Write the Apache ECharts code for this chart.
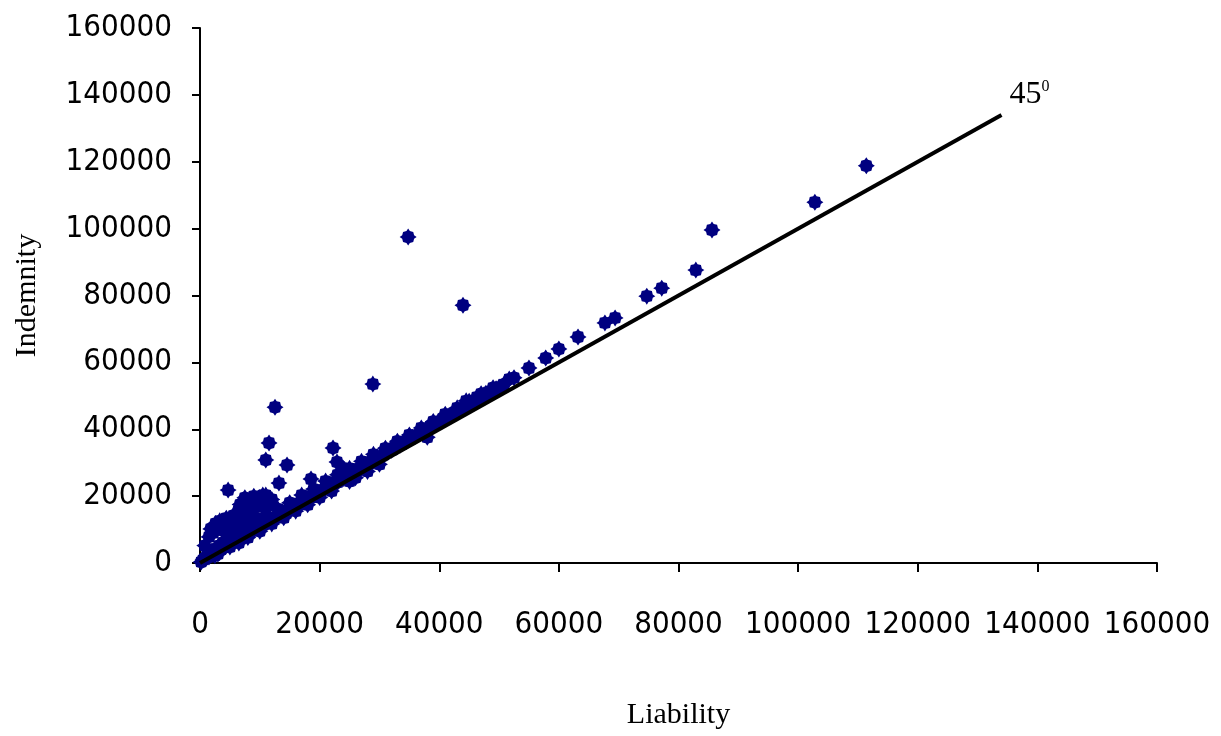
<!DOCTYPE html>
<html>
<head>
<meta charset="utf-8">
<script src="https://cdn.jsdelivr.net/npm/echarts@6/dist/echarts.min.js"></script>
<style>
html,body{margin:0;padding:0;background:#fff;}
#chart{width:1221px;height:736px;}
</style>
</head>
<body>
<div id="chart"></div>
<script>
// ---- data ----
const xAxisName = 'Liability';
const yAxisName = 'Indemnity';
const axisMin = 0;
const axisMax = 160000;
const axisStep = 20000;
const diagonalLabel = ['45', '0'];

// dense band along the diagonal
const bandLiability = [200,500,800,1000,1200,1500,1800,2000,2200,2500,2700,3000,3200,3500,3800,4000,4300,4500,4800,5000,5200,5500,5800,6000,6300,6500,6800,7000,7300,7500,7800,8000,8300,8600,9000,9300,9600,10000,
 10500,11000,11500,12000,12500,13000,13500,14000,14500,15000,15500,16000,16500,17000,17500,18000,18500,19000,19500,20000,20500,21000,21500,22000,22500,23000,23500,24000,24500,25000,25500,26000,26500,27000,27500,28000,28500,29000,29500,30000,30500,31000,31500,32000,32500,33000,33500,34000,34500,35000,35500,36000,36500,37000,37500,38000,38500,39000,39500,40000,40500,41000,41500,42000,42500,43000,43500,44000,44500,45000,45500,46000,46500,47000,47500,48000,48500,49000,49500,50000,50800,51700,52500,
 5000,12000,20000,30000,38000,3000,8000,16000,25000];
const bandIndemnity = [300,900,1200,1500,2600,1800,2400,3500,2600,4200,3100,3600,5200,4000,6100,4600,5000,7200,5500,8300,5900,6300,9000,6800,7200,10200,7600,8000,11000,8300,8700,12000,9200,9500,10000,13500,10500,11000,
 11300,12100,12300,13000,13600,13700,14600,15100,15300,16200,16500,17100,17800,17900,18800,19300,19500,20400,20800,21000,21900,22400,22600,23500,23800,24100,25000,25300,25700,26600,26800,27300,28200,28400,28800,29800,30000,30500,31400,31600,32000,33000,33200,33700,34600,34800,35300,36100,36300,36900,37600,37900,38400,39300,39500,40000,40900,41100,41600,42400,42700,43200,44000,44200,44800,45500,45800,46300,47200,47400,47900,48700,49000,49500,50300,50500,51100,51800,52100,52600,53400,55000,55400,
 4800,11700,19600,29500,37600,2700,7600,15500,24400];

// upper edge of the band
const bandTopLiability = [11000,13000,15000,17000,19000,21000,23000,25000,27000,29000,31000,33000,35000,37000,39000,41000,43000,45000,47000,49000];
const bandTopIndemnity = [14000,16200,18000,20300,22100,24500,26400,28300,30400,32500,34300,36400,38300,40400,42300,44500,46400,48400,50600,52400];

// lower edge of the band
const bandLowLiability = [2500,6500,10000,14000,18000,22000,26000,28000];
const bandLowIndemnity = [2200,6000,9500,13500,17400,21500,25500,27400];

// upper blob near the origin
const blobLiability = [800,1500,1800,2200,2600,3000,3300,3700,4100,4400,4800,5200,5600,6000,6400,6700,7200,7600,8000,8500,9000,9500,10000,10500,11000,11500,12000,6700,7500,8300,9000,9800,10500,11200,8000,44500,46300,47800];
const blobIndemnity = [5200,7800,10200,9000,11800,10500,12600,9800,11200,13400,12200,10800,14200,12500,15600,13800,16200,14800,17200,15400,18200,16800,19600,18300,20300,17500,19000,17500,19500,16500,20000,18000,20300,17000,15000,48500,49600,50800];

// scattered outliers
const outlierLiability = [34800,43970,85600,82900,77200,74700,69400,67700,63200,60000,57800,55000,111400,102800,28900,12540,11540,11000,14550,22240,22900,23900,13200,18560,4700];
const outlierIndemnity = [97500,77100,99600,87600,82200,79800,73300,71800,67600,64000,61300,58300,118800,107900,53500,46600,35900,30800,29300,34400,30200,28400,23900,25100,21800];

// 45 degree reference line end points
const diagLiability = [0, 134000];
const diagIndemnity = [0, 134000];

// ---- build ----
function pairs(xs, ys){ return xs.map((x,i)=>[x, ys[i]]); }
const points = pairs(bandLiability, bandIndemnity)
  .concat(pairs(bandTopLiability, bandTopIndemnity))
  .concat(pairs(bandLowLiability, bandLowIndemnity))
  .concat(pairs(blobLiability, blobIndemnity))
  .concat(pairs(outlierLiability, outlierIndemnity));
const diag = pairs(diagLiability, diagIndemnity);

const markerPath = 'path://M0,-10 L2,-7 L6,-6 L7,-2 L10,0 L7,2 L6,6 L2,7 L0,10 L-2,7 L-6,6 L-7,2 L-10,0 L-7,-2 L-6,-6 L-2,-7 Z';
const labelFont = "'DejaVu Sans Condensed','Liberation Sans Narrow','Arial Narrow',sans-serif";
const serif = "'Liberation Serif','Times New Roman',serif";

const chart = echarts.init(document.getElementById('chart'), null, {renderer:'canvas'});
chart.setOption({
  animation: false,
  backgroundColor: '#ffffff',
  grid: {left: 200, right: 64, top: 28, bottom: 173, containLabel: false},
  xAxis: {
    type: 'value', min: axisMin, max: axisMax, interval: axisStep,
    name: xAxisName, nameLocation: 'middle', nameGap: 137,
    nameTextStyle: {fontFamily: serif, fontSize: 30, color: '#000'},
    axisLine: {show: true, lineStyle: {color: '#000', width: 2}},
    axisTick: {show: true, inside: false, length: 9, lineStyle: {color: '#000', width: 2}},
    axisLabel: {margin: 46, fontFamily: labelFont, fontSize: 31, color: '#000', hideOverlap: false,
      showMinLabel: true, showMaxLabel: true, formatter: v => String(v)},
    splitLine: {show: false}
  },
  yAxis: {
    type: 'value', min: axisMin, max: axisMax, interval: axisStep,
    name: yAxisName, nameLocation: 'middle', nameGap: 158,
    nameTextStyle: {fontFamily: serif, fontSize: 30, color: '#000'},
    axisLine: {show: true, lineStyle: {color: '#000', width: 2}},
    axisTick: {show: true, inside: false, length: 8, lineStyle: {color: '#000', width: 2}},
    axisLabel: {margin: 28, fontFamily: labelFont, fontSize: 31, color: '#000', hideOverlap: false,
      showMinLabel: true, showMaxLabel: true, formatter: v => String(v)},
    splitLine: {show: false}
  },
  series: [
    {
      type: 'scatter',
      data: points,
      symbol: markerPath,
      symbolSize: 17,
      itemStyle: {color: '#000080', opacity: 1},
      clip: false,
      z: 2
    },
    {
      type: 'line',
      data: diag,
      showSymbol: false,
      symbol: 'none',
      lineStyle: {color: '#000', width: 4},
      z: 3,
      silent: true,
      endLabel: {
        show: true,
        distance: 5,
        offset: [3, -20],
        formatter: '{a|' + diagonalLabel[0] + '}{b|' + diagonalLabel[1] + '}',
        rich: {
          a: {fontFamily: serif, fontSize: 32, color: '#000', lineHeight: 32},
          b: {fontFamily: serif, fontSize: 16, color: '#000', verticalAlign: 'top', lineHeight: 32, padding: [0,0,12,0]}
        }
      }
    }
  ]
});
</script>
</body>
</html>
